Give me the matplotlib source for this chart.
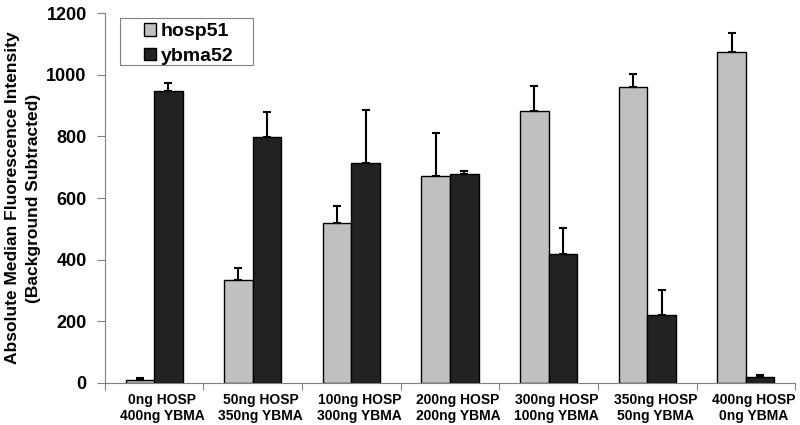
import numpy as np
import matplotlib.pyplot as plt
import matplotlib.transforms as mtransforms
from matplotlib.patches import Rectangle

# data
groups = ["0ng HOSP\n400ng YBMA", "50ng HOSP\n350ng YBMA", "100ng HOSP\n300ng YBMA",
          "200ng HOSP\n200ng YBMA", "300ng HOSP\n100ng YBMA", "350ng HOSP\n50ng YBMA",
          "400ng HOSP\n0ng YBMA"]
hosp51 = [10, 335, 518, 672, 883, 959, 1073]
hosp51_err = [5, 38, 57, 140, 81, 44, 64]
ybma52 = [949, 797, 714, 677, 418, 220, 20]
ybma52_err = [23, 83, 173, 12, 85, 80, 6]

plt.rcParams['font.family'] = ['Liberation Sans', 'DejaVu Sans']
plt.rcParams['font.weight'] = 'bold'

fig = plt.figure(figsize=(8, 4.25), dpi=100)
ax = fig.add_axes([0.131, 0.099, 0.863, 0.870])

x = np.arange(len(groups))
w = 0.29
ax.bar(x - w / 2, hosp51, w, color='#c0c0c0', edgecolor='black', linewidth=1,
       yerr=[np.zeros(len(x)), hosp51_err], capsize=3,
       error_kw=dict(elinewidth=1.5, capthick=1.5), label='hosp51')
ax.bar(x + w / 2, ybma52, w, color='#222222', edgecolor='black', linewidth=1,
       yerr=[np.zeros(len(x)), ybma52_err], capsize=3,
       error_kw=dict(elinewidth=1.5, capthick=1.5), label='ybma52')

ax.set_xlim(-0.5, len(groups) - 0.5)
ax.set_ylim(0, 1200)
ax.set_yticks(np.arange(0, 1201, 200))
ax.tick_params(axis='y', labelsize=13, length=6, width=0.8, color='#808080', pad=7)

# group labels centred, tick marks between groups
ax.set_xticks(x)
ax.set_xticklabels(groups, fontsize=10, linespacing=1.2)
ax.tick_params(axis='x', which='major', length=0, pad=7)
ax.set_xticks(np.arange(-0.5, len(groups)), minor=True)
ax.tick_params(axis='x', which='minor', length=5, width=0.8, color='#808080')
offset = mtransforms.ScaledTranslation(8 / 100, 0, fig.dpi_scale_trans)
for lbl in ax.get_xticklabels():
    lbl.set_transform(lbl.get_transform() + offset)

for s in ['top', 'right']:
    ax.spines[s].set_visible(False)
for s in ['left', 'bottom']:
    ax.spines[s].set_color('#808080')
    ax.spines[s].set_linewidth(0.8)

ax.set_ylabel('Absolute Median Fluorescence Intensity\n(Background Subtracted)',
              fontsize=12.5, fontweight='bold', labelpad=4, linespacing=1.45)

# legend: box drawn separately so it can be padded like the original
ax.add_patch(Rectangle((0.022, 0.859), 0.193, 0.128, transform=ax.transAxes,
                       facecolor='white', edgecolor='#808080', linewidth=0.8,
                       zorder=4))
leg = ax.legend(loc='upper left', bbox_to_anchor=(0.054, 0.978), fontsize=14,
                handlelength=0.6, handleheight=0.6, handletextpad=0.25,
                borderpad=0.1, labelspacing=0.4, borderaxespad=0,
                frameon=False)
leg.set_zorder(5)

fig.savefig('out.png', dpi=100)
